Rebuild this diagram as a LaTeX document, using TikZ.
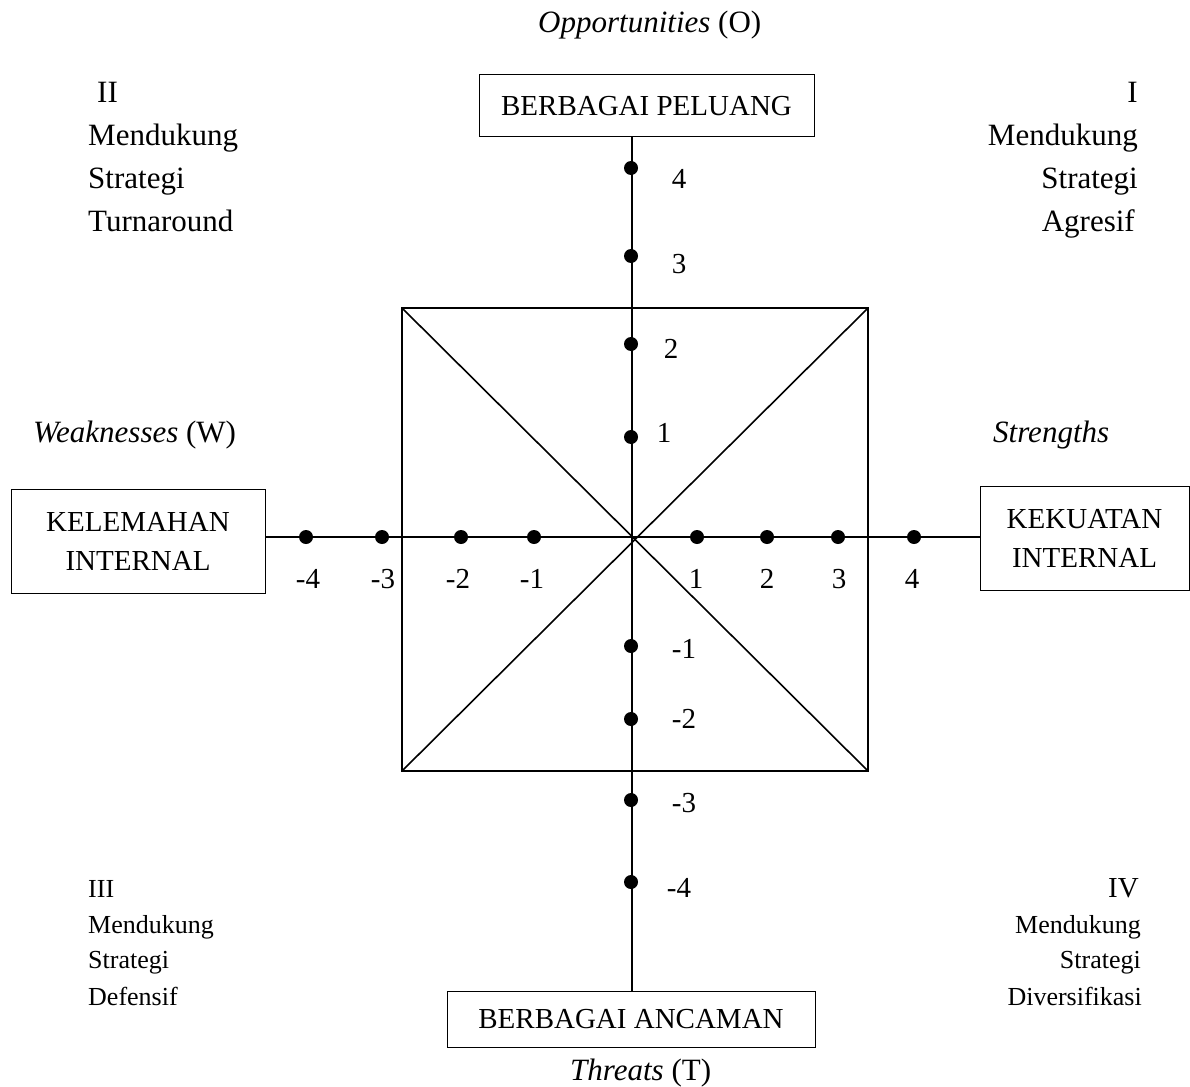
\documentclass[tikz,border=0pt]{standalone}
\usepackage{fontspec}
\setmainfont{Liberation Serif}
\begin{document}
\begin{tikzpicture}[x=1pt,y=-1pt]
\tikzset{
  boxnode/.style={draw, line width=1pt, inner sep=0pt, align=center,
                  font=\fontsize{29}{39}\selectfont},
  axisline/.style={line width=1.6pt},
  dotmark/.style={circle, fill=black, inner sep=0pt, minimum size=14pt},
  numlbl/.style={anchor=base, inner sep=0pt, font=\fontsize{29}{35}\selectfont},
  biglbl/.style={anchor=base west, inner sep=0pt, font=\fontsize{31}{37}\selectfont},
  qleft/.style={anchor=base west, inner sep=0pt, font=\fontsize{31}{37}\selectfont},
  qright/.style={anchor=base east, inner sep=0pt, font=\fontsize{31}{37}\selectfont},
  qleftsmall/.style={anchor=base west, inner sep=0pt, font=\fontsize{26}{32}\selectfont},
  qrightsmall/.style={anchor=base east, inner sep=0pt, font=\fontsize{26}{32}\selectfont},
}
\useasboundingbox (0,0) rectangle (1190,1086);

% the four end boxes
\node[boxnode, minimum width=335pt, minimum height=62pt] (peluang) at (646.5,106) {BERBAGAI PELUANG};
\node[boxnode, minimum width=368pt, minimum height=56pt] (ancaman) at (631,1019) {BERBAGAI ANCAMAN};
\node[boxnode, minimum width=254pt, minimum height=104pt] (kelemahan) at (138,541) {KELEMAHAN\\INTERNAL};
\node[boxnode, minimum width=209pt, minimum height=104pt] (kekuatan) at (1084.5,538) {KEKUATAN\\INTERNAL};

% origin of the axes
\coordinate (origin) at (632,537);

% central square with its diagonals
\coordinate (sqnw) at (402,308);
\coordinate (sqne) at (868,308);
\coordinate (sqse) at (868,771);
\coordinate (sqsw) at (402,771);
\draw[axisline] (sqnw) rectangle (sqse);
\draw[axisline] (sqnw) -- (sqse);
\draw[axisline] (sqne) -- (sqsw);

% axes
\draw[axisline] (peluang.south -| origin) -- (ancaman.north -| origin);
\draw[axisline] (kelemahan.east |- origin) -- (kekuatan.west |- origin);

% vertical scale
\foreach \yy/\nm in {168/o4, 256/o3, 344/o2, 437/o1, 646/t1, 719/t2, 800/t3, 882/t4}
  \node[dotmark] (d\nm) at (631,\yy) {};
\node[numlbl] (lo4) at (679,188) {4};
\node[numlbl] (lo3) at (679,273) {3};
\node[numlbl] (lo2) at (671,358) {2};
\node[numlbl] (lo1) at (664,442) {1};
\node[numlbl] (lt1) at (684,658) {-1};
\node[numlbl] (lt2) at (684,728) {-2};
\node[numlbl] (lt3) at (684,812) {-3};
\node[numlbl] (lt4) at (679,897) {-4};

% horizontal scale
\foreach \xx/\nm in {306/w4, 382/w3, 461/w2, 534/w1, 697/s1, 767/s2, 838/s3, 914/s4}
  \node[dotmark] (d\nm) at (\xx,537) {};
\node[numlbl] (lw4) at (308,588) {-4};
\node[numlbl] (lw3) at (383,588) {-3};
\node[numlbl] (lw2) at (458,588) {-2};
\node[numlbl] (lw1) at (532,588) {-1};
\node[numlbl] (ls1) at (696,588) {1};
\node[numlbl] (ls2) at (767,588) {2};
\node[numlbl] (ls3) at (839,588) {3};
\node[numlbl] (ls4) at (912,588) {4};

% axis captions
\node[biglbl] (capo) at (538,33) {\textit{Opportunities} (O)};
\node[biglbl] (capt) at (570,1080) {\textit{Threats} (T)};
\node[biglbl] (capw) at (33,442) {\textit{Weaknesses} (W)};
\node[biglbl] (caps) at (993,442) {\textit{Strengths}};

% quadrant II
\node[qleft] (q2a) at (97,103) {II};
\node[qleft] (q2b) at (88,146) {Mendukung};
\node[qleft] (q2c) at (88,188) {Strategi};
\node[qleft] (q2d) at (88,231) {Turnaround};

% quadrant I
\node[qright] (q1a) at (1138,103) {I};
\node[qright] (q1b) at (1138,146) {Mendukung};
\node[qright] (q1c) at (1138,188) {Strategi};
\node[qright] (q1d) at (1135,231) {Agresif};

% quadrant III
\node[qleftsmall] (q3a) at (88,897) {III};
\node[qleftsmall] (q3b) at (88,933) {Mendukung};
\node[qleftsmall] (q3c) at (88,968) {Strategi};
\node[qleftsmall] (q3d) at (88,1005) {Defensif};

% quadrant IV
\node[qrightsmall] (q4a) at (1139,897) {\fontsize{29}{32}\selectfont IV};
\node[qrightsmall] (q4b) at (1141,933) {Mendukung};
\node[qrightsmall] (q4c) at (1141,968) {Strategi};
\node[qrightsmall] (q4d) at (1142,1005) {Diversifikasi};
\end{tikzpicture}
\end{document}
